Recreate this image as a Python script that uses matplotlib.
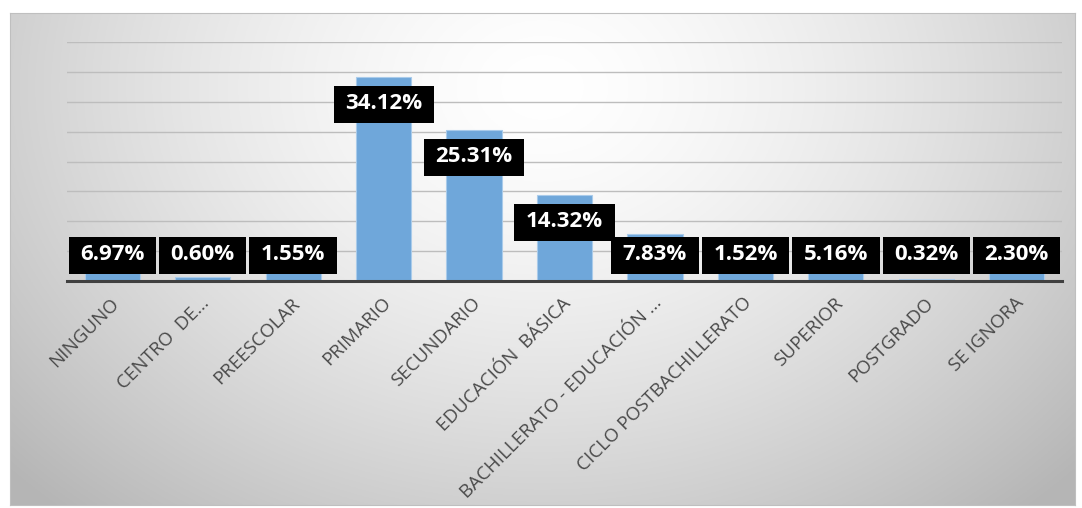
import numpy as np
import matplotlib.pyplot as plt
from matplotlib.patches import Rectangle
from matplotlib.transforms import ScaledTranslation

categories = ["NINGUNO", "CENTRO  DE...", "PREESCOLAR", "PRIMARIO", "SECUNDARIO",
              "EDUCACIÓN  BÁSICA", "BACHILLERATO - EDUCACIÓN ...", "CICLO POSTBACHILLERATO",
              "SUPERIOR", "POSTGRADO", "SE IGNORA"]
values = [6.97, 0.60, 1.55, 34.12, 25.31, 14.32, 7.83, 1.52, 5.16, 0.32, 2.30]
labels = ["6.97%", "0.60%", "1.55%", "34.12%", "25.31%", "14.32%", "7.83%",
          "1.52%", "5.16%", "0.32%", "2.30%"]

W, H = 1082, 508
fig = plt.figure(figsize=(W / 100, H / 100), dpi=100)
fig.patch.set_facecolor("white")

# radial gradient background of the chart area
bg = fig.add_axes([10 / W, 3 / H, 1065 / W, 492 / H])
yy, xx = np.mgrid[0:1:300j, 0:1:600j]
d = np.sqrt(((xx - 0.5) / 0.62) ** 2 + ((yy - 0.15) / 1.05) ** 2)
shade = 1.0 - 0.25 * np.clip(d, 0, 1.1) ** 1.5
img = np.dstack([shade, shade, shade])
bg.imshow(img, aspect="auto", extent=[0, 1, 0, 1], origin="upper")
bg.set_xticks([])
bg.set_yticks([])
for s in bg.spines.values():
    s.set_color("#BFBFBF")
    s.set_linewidth(0.8)

ax = fig.add_axes([67 / W, (H - 281) / H, 995 / W, 239 / H])
ax.patch.set_alpha(0)
x = np.arange(len(categories))
ax.bar(x, values, width=0.61, color="#6FA7DA", edgecolor="#A9CBEA", linewidth=0.8, zorder=2)
ax.set_xlim(-0.5, len(categories) - 0.5)
ax.set_ylim(0, 40)
ax.set_yticks(np.arange(5, 41, 5))
ax.yaxis.grid(True, color="#BDBDBD", linewidth=1.0, zorder=0)
ax.tick_params(axis="y", length=0, labelleft=False)
ax.tick_params(axis="x", length=0, pad=14)
for side in ["top", "right", "left"]:
    ax.spines[side].set_visible(False)
ax.spines["bottom"].set_color("#404040")
ax.spines["bottom"].set_linewidth(2.2)
ax.spines["bottom"].set_zorder(3)

ax.set_xticks(x)
ax.set_xticklabels(categories, rotation=45, ha="right", va="center", rotation_mode="anchor",
                   fontsize=13.5, color="#4A4A4A", family="Open Sans")
shift = ScaledTranslation(4 / 100, 0, fig.dpi_scale_trans)
for lab in ax.get_xticklabels():
    lab.set_transform(lab.get_transform() + shift)

texts = []
for xi, v, lab in zip(x, values, labels):
    ypos = max(v - 4.4, 4.4)
    t = ax.text(xi, ypos, lab, ha="center", va="center", fontsize=16,
                fontweight="bold", color="white", family="Open Sans", zorder=5)
    texts.append(t)

# black label boxes sized from the text extents
fig.canvas.draw()
renderer = fig.canvas.get_renderer()
for t in texts:
    bb = t.get_window_extent(renderer)
    cx = (bb.x0 + bb.x1) / 2
    cy = (bb.y0 + bb.y1) / 2 - 1
    bw = bb.width + 23
    bh = 37
    rect = Rectangle((cx - bw / 2, cy - bh / 2), bw, bh, transform=None,
                     facecolor="black", edgecolor="none", zorder=4)
    ax.add_artist(rect)

fig.savefig("out.png", dpi=100)
